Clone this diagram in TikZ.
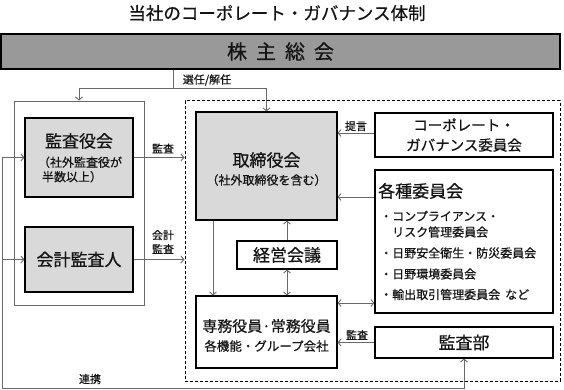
\documentclass[tikz,border=0pt]{standalone}
\usepackage{fontspec}
\setmainfont{Noto Sans CJK JP}[FakeBold=0.6]
\usetikzlibrary{arrows.meta}
\definecolor{barfill}{RGB}{153,153,153}
\definecolor{boxfill}{RGB}{217,217,217}
\definecolor{conncol}{RGB}{105,105,105}
\definecolor{txtcol}{RGB}{20,20,20}
\begin{document}
\begin{tikzpicture}[x=1pt,y=-1pt,
  every node/.style={inner sep=0pt,text=txtcol},
  box/.style={draw=black,line width=1.1pt,rectangle,align=center},
  graybox/.style={box,fill=boxfill},
  conn/.style={draw=conncol,line width=0.9pt},
  tip/.style={-{Straight Barb[length=3pt,width=7pt]}},
  dtip/.style={{Straight Barb[length=3pt,width=7pt]}-{Straight Barb[length=3pt,width=7pt]}},
  lbl/.style={font=\fontsize{11}{13}\selectfont},
  big/.style={font=\fontsize{17}{21}\selectfont},
  item/.style={anchor=west,font=\fontsize{12}{14}\selectfont}]
\useasboundingbox (0,0) rectangle (564,390);
% title
\node (title) at (277,13) {\fontsize{17.5}{20}\selectfont 当社のコーポレート・ガバナンス体制};
% shareholders bar
\node[box,fill=barfill,minimum width=559pt,minimum height=35pt,font=\fontsize{20}{24}\selectfont] (bar) at (280.5,51.5)
  {株\hspace{9pt}主\hspace{9pt}総\hspace{9pt}会};
% left outer box
\node[draw=conncol,line width=0.9pt,minimum width=130pt,minimum height=204pt] (outer) at (79,203) {};
\node[graybox,minimum width=108pt,minimum height=79pt] (kansa) at (79,157.5) {};
\node[big] (kansat) at (79,141) {監査役会};
\node[font=\fontsize{12}{14.5}\selectfont,align=left] (kansas) at (80,169.5) {（社外監査役が\\\hspace*{4pt}半数以上）};
\node[graybox,big,minimum width=108pt,minimum height=65pt] (kaikei) at (79,259.5) {会計監査人};
% dashed box
\node[draw=black,line width=1pt,dash pattern=on 3pt off 2pt,minimum width=375pt,minimum height=280pt] (dash) at (372.5,241) {};
% inside
\node[graybox,minimum width=141pt,minimum height=108pt] (tori) at (266.5,166) {};
\node[big] (torit) at (266.5,160) {取締役会};
\node[font=\fontsize{12}{14.5}\selectfont] (toris) at (266.5,180) {（社外取締役を含む）};
\node[box,minimum width=178pt,minimum height=44pt,font=\fontsize{14.5}{20}\selectfont] (cg) at (464,135)
  {コーポレート・\\ガバナンス委員会};
\node[box,minimum width=178pt,minimum height=143pt] (kaku) at (464,241.5) {};
\node[anchor=west,big] (kakut) at (378,191) {各種委員会};
\node[item] (k1) at (380,216) {・コンプライアンス・};
\node[item] (k2) at (380,232) {\hspace*{12pt}リスク管理委員会};
\node[item] (k3) at (380,253) {・日野安全衛生・防災委員会};
\node[item] (k4) at (380,274) {・日野環境委員会};
\node[item] (k5) at (380,294.5) {・輸出取引管理委員会\hspace{5pt}など};
\node[box,big,minimum width=100pt,minimum height=28pt] (keiei) at (287,255) {経営会議};
\node[box,minimum width=141pt,minimum height=72pt] (senmu) at (266.5,332) {};
\node[font=\fontsize{15}{20}\selectfont] (senmut) at (266.5,326) {専務役員·常務役員};
\node[font=\fontsize{12.5}{15}\selectfont] (senmus) at (266.5,346) {各機能・グループ会社};
\node[box,big,minimum width=178pt,minimum height=31pt] (kansabu) at (464,342.5) {監査部};
% coordinates
\coordinate (top) at (173,88);
\coordinate (lb) at (2,388);
% election arrows
\draw[conn] (bar.south -| top) -- (top);
\draw[conn,tip] (top) -| (outer.north);
\draw[conn,tip] (top) -| (tori.north);
\node[lbl] (senin) at (207,80) {選任/解任};
% audit arrows to dashed box
\draw[conn,tip] (kansa.east) -- (kansa.east -| dash.west);
\node[lbl] (l1) at (163,148.5) {監査};
\draw[conn,tip] (kaikei.east) -- (kaikei.east -| dash.west);
\node[lbl,align=center,font=\fontsize{11}{14}\selectfont] (l2) at (163,242) {会計\\監査};
% committees to board
\draw[conn,tip] (cg.west |- 0,133) -- (tori.east |- 0,133);
\node[lbl] (l3) at (356,126) {提言};
\draw[conn,tip] (kaku.west |- 0,197) -- (tori.east |- 0,197);
% management meeting
\draw[conn,tip] (keiei.north) -- (keiei.north |- tori.south);
\draw[conn,dtip] (keiei.south) -- (keiei.south |- senmu.north);
\draw[conn,tip] (tori.south -| 213,0) -- (senmu.north -| 213,0);
\draw[conn,dtip] (senmu.east |- 0,303) -- (kaku.west |- 0,303);
% internal audit
\draw[conn,tip] (kansabu.west) -- (kansabu.west -| senmu.east);
\node[lbl] (l4) at (357,335) {監査};
% cooperation loop
\draw[conn,dtip] (kansabu.south) |- (lb) |- (kansa.west);
\draw[conn,tip] (lb |- kaikei.west) -- (kaikei.west);
\node[lbl] (l5) at (90,379) {連携};
\end{tikzpicture}
\end{document}
